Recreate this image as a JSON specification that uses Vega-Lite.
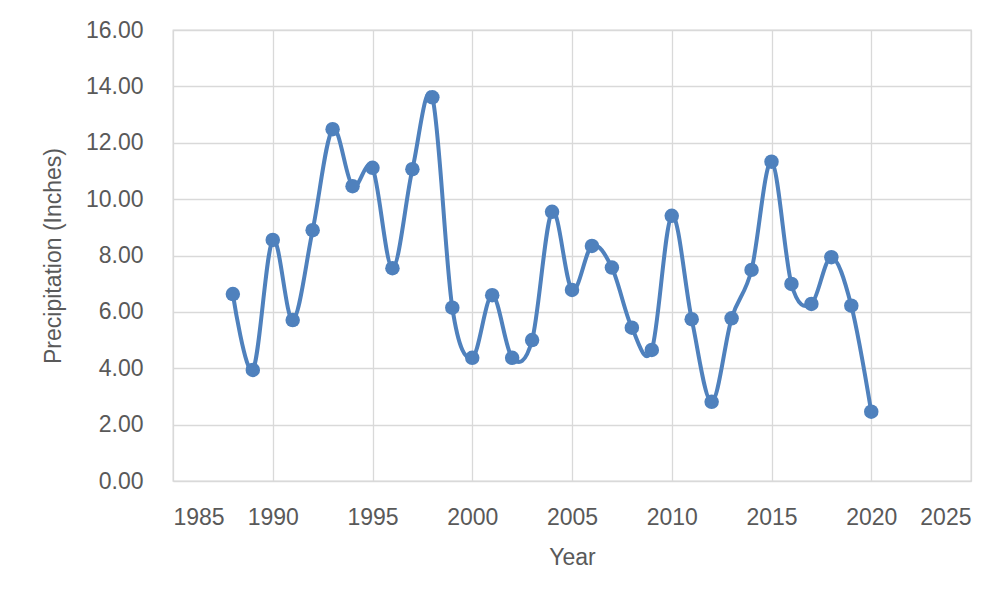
{
  "$schema": "https://vega.github.io/schema/vega-lite/v6.json",
  "width": 798,
  "height": 451,
  "autosize": {"type": "none"},
  "padding": {"left": 173, "top": 30, "right": 29, "bottom": 119},
  "background": "white",
  "config": {
    "view": {"stroke": "#D9D9D9", "strokeWidth": 1.3},
    "font": "Liberation Sans",
    "axis": {
      "labelFont": "Liberation Sans",
      "titleFont": "Liberation Sans",
      "labelFontSize": 23,
      "titleFontSize": 23,
      "labelColor": "#595959",
      "titleColor": "#595959",
      "titleFontWeight": "normal",
      "gridColor": "#D9D9D9",
      "gridWidth": 1.3,
      "domain": false,
      "ticks": false
    }
  },
  "data": {
    "values": [
      {"Year": 1988, "Precip": 6.63},
      {"Year": 1989, "Precip": 3.94},
      {"Year": 1990, "Precip": 8.55},
      {"Year": 1991, "Precip": 5.71},
      {"Year": 1992, "Precip": 8.90},
      {"Year": 1993, "Precip": 12.48},
      {"Year": 1994, "Precip": 10.46},
      {"Year": 1995, "Precip": 11.11},
      {"Year": 1996, "Precip": 7.55},
      {"Year": 1997, "Precip": 11.06},
      {"Year": 1998, "Precip": 13.61},
      {"Year": 1999, "Precip": 6.15},
      {"Year": 2000, "Precip": 4.37},
      {"Year": 2001, "Precip": 6.59},
      {"Year": 2002, "Precip": 4.37},
      {"Year": 2003, "Precip": 5.00},
      {"Year": 2004, "Precip": 9.55},
      {"Year": 2005, "Precip": 6.78},
      {"Year": 2006, "Precip": 8.34},
      {"Year": 2007, "Precip": 7.57},
      {"Year": 2008, "Precip": 5.44},
      {"Year": 2009, "Precip": 4.65},
      {"Year": 2010, "Precip": 9.41},
      {"Year": 2011, "Precip": 5.74},
      {"Year": 2012, "Precip": 2.81},
      {"Year": 2013, "Precip": 5.77},
      {"Year": 2014, "Precip": 7.49},
      {"Year": 2015, "Precip": 11.33},
      {"Year": 2016, "Precip": 6.99},
      {"Year": 2017, "Precip": 6.28},
      {"Year": 2018, "Precip": 7.94},
      {"Year": 2019, "Precip": 6.22},
      {"Year": 2020, "Precip": 2.46}
    ]
  },
  "encoding": {
    "x": {
      "field": "Year",
      "type": "quantitative",
      "scale": {"domain": [1985, 2025], "nice": false, "zero": false},
      "axis": {
        "values": [1985, 1990, 1995, 2000, 2005, 2010, 2015, 2020, 2025],
        "format": "d",
        "labelPadding": 25,
        "titlePadding": 17,
        "title": "Year"
      }
    },
    "y": {
      "field": "Precip",
      "type": "quantitative",
      "scale": {"domain": [0, 16], "nice": false},
      "axis": {
        "values": [0, 2, 4, 6, 8, 10, 12, 14, 16],
        "format": ".2f",
        "labelPadding": 30,
        "titlePadding": 20,
        "title": "Precipitation (Inches)"
      }
    }
  },
  "layer": [
    {
      "mark": {"type": "line", "interpolate": "cardinal", "color": "#4F81BD", "strokeWidth": 4}
    },
    {
      "mark": {"type": "point", "filled": true, "opacity": 1, "color": "#4F81BD", "size": 210, "shape": "circle"}
    }
  ]
}
